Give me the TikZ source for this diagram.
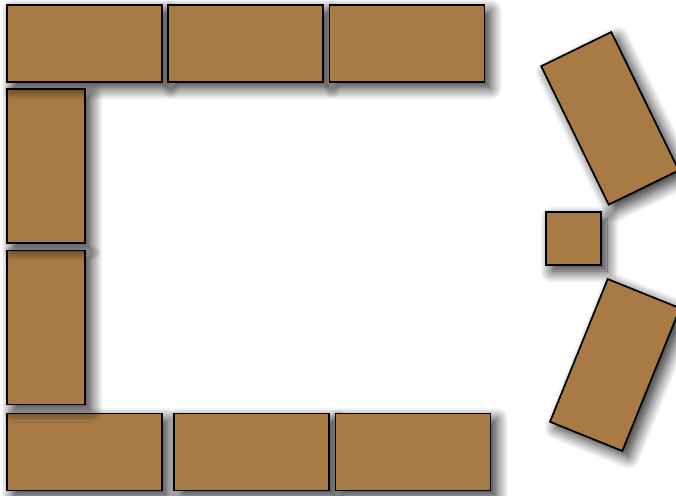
\documentclass[tikz,border=0pt]{standalone}
\usetikzlibrary{shadows.blur}
\definecolor{brickbrown}{RGB}{169,123,68}

\begin{document}
\begin{tikzpicture}[
    x=0.02cm, y=-0.02cm,
    brick/.style={draw, line width=1pt, fill=brickbrown, inner sep=0pt,
                  blur shadow={shadow xshift=0.12cm, shadow yshift=-0.12cm,
                               shadow blur radius=0.24cm, shadow blur steps=14,
                               shadow opacity=85}},
    hbrick/.style={brick, minimum width=3.1cm, minimum height=1.54cm},
    vbrick/.style={brick, minimum width=1.56cm, minimum height=3.08cm}
  ]
  \useasboundingbox (0,0) rectangle (676,495);

  % bottom row
  \node[hbrick] (bot1) at (84.5,452) {};
  \node[hbrick] (bot2) at (251.5,452) {};
  \node[hbrick] (bot3) at (413,452) {};

  % left column
  \node[vbrick] (left2) at (46,327.5) {};
  \node[vbrick] (left1) at (46,166) {};

  % top row
  \node[hbrick] (top1) at (84.5,43.5) {};
  \node[hbrick] (top2) at (245.5,43.5) {};
  \node[hbrick] (top3) at (407,43.5) {};

  % the loose pieces on the right
  \node[vbrick, rotate=26] (tiltup) at (610,118.3) {};
  \node[brick, minimum width=1.1cm, minimum height=1.06cm] (block) at (573.5,238.5) {};
  \node[vbrick, rotate=-22] (tiltdown) at (615,365) {};
\end{tikzpicture}
\end{document}
